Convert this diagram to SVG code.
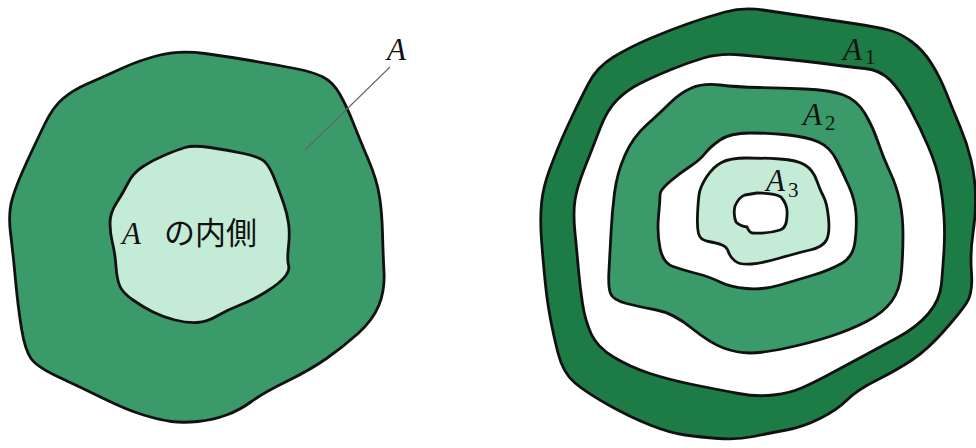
<svg xmlns="http://www.w3.org/2000/svg" width="976" height="448" viewBox="0 0 976 448">
<style>
.ol{stroke:#111;stroke-width:2.8;stroke-linejoin:round}
.mid{fill:#3a9a69}
.light{fill:#c4ebd5}
.dark{fill:#1d7c45}
.wh{fill:#fff}
.lab{font-family:"Liberation Serif",serif;font-style:italic;font-size:31px;fill:#111}
.sub{font-family:"Liberation Serif",serif;font-size:21px;fill:#111}
.jp{font-family:"Noto Sans CJK JP",sans-serif;font-size:31px;fill:#111}
</style>
<rect width="976" height="448" fill="#fff"/>
<g id="region-A">
<path class="ol mid" d="M160,55 Q180,50 205,53.5 Q230,57 253.5,61 Q277,65 295,68.5 Q313,72 323,77 Q333,82 340,94.5 Q347,107 353.5,123.5 Q360,140 368.5,160 Q377,180 379.5,196.5 Q382,213 382.5,233 Q383,253 384,271.5 Q385,290 379,305 Q373,320 358,333.5 Q343,347 326.5,358.5 Q310,370 286.5,381.5 Q263,393 251.5,401.5 Q240,410 226.5,415 Q213,420 198,421.5 Q183,423 171.5,421.5 Q160,420 143.5,415 Q127,410 103.5,398.5 Q80,387 58.5,377 Q37,367 31,358.5 Q25,350 21.5,328.5 Q18,307 15.5,280 Q13,253 10.5,233 Q8,213 12.5,198 Q17,183 27,161.5 Q37,140 45,123.5 Q53,107 63,98.5 Q73,90 88,83.5 Q103,77 121.5,68.5 Q140,60 160,55 Z"/>
</g>
<g id="inside-A">
<path class="ol light" d="M185,147.5 Q193,145 210,147.5 Q227,150 243.5,153.5 Q260,157 265,162 Q270,167 275,180 Q280,193 283.5,203 Q287,213 288.5,223 Q290,233 288.5,246.5 Q287,260 288.5,265 Q290,270 285,276.5 Q280,283 266.5,291.5 Q253,300 240,305 Q227,310 217,316 Q207,322 197,322.5 Q187,323 175,320 Q163,317 153,312 Q143,307 133,300 Q123,293 120,286.5 Q117,280 116,266.5 Q115,253 112.5,243 Q110,233 110,223 Q110,213 116.5,203 Q123,193 128,183 Q133,173 143,166.5 Q153,160 165,155 Q177,150 185,147.5 Z"/>
<text class="lab" x="122" y="244">A</text>
<text class="jp" x="164" y="244">の内側</text>
</g>
<g id="label-A">
<text class="lab" x="387" y="60">A</text>
</g>
<g id="connectors">
<line x1="390" y1="67" x2="305" y2="150" stroke="#666" stroke-width="1.1"/>
</g>
<g id="A1">
<path class="ol dark" d="M725,12 Q743,7 763,10 Q783,13 806.5,16.5 Q830,20 853.5,23.5 Q877,27 888.5,30 Q900,33 911.5,41.5 Q923,50 931.5,63.5 Q940,77 946.5,93.5 Q953,110 960,126.5 Q967,143 971,160 Q975,177 975.5,195 Q976,213 973,233 Q970,253 971.5,273 Q973,293 966.5,303 Q960,313 943.5,331.5 Q927,350 912,360 Q897,370 877,380 Q857,390 847,400 Q837,410 820,418.5 Q803,427 786.5,430 Q770,433 753.5,436.5 Q737,440 718.5,438.5 Q700,437 685,435 Q670,433 650,425 Q630,417 608.5,405 Q587,393 575,383 Q563,373 558,353 Q553,333 550,316.5 Q547,300 545,280 Q543,260 541.5,240 Q540,220 541.5,203.5 Q543,187 550,168.5 Q557,150 562,138.5 Q567,127 573.5,113.5 Q580,100 588.5,83.5 Q597,67 613.5,57 Q630,47 650,38.5 Q670,30 688.5,23.5 Q707,17 725,12 Z"/>
<path class="ol wh" d="M703.5,58 Q720,53 741.5,55 Q763,57 788,59.5 Q813,62 831.5,64.5 Q850,67 865,68.5 Q880,70 890,80 Q900,90 910,108.5 Q920,127 928.5,147 Q937,167 940,183.5 Q943,200 944,216.5 Q945,233 944,250 Q943,267 941.5,283.5 Q940,300 928.5,313.5 Q917,327 898.5,337 Q880,347 861.5,357 Q843,367 828,375 Q813,383 801.5,388 Q790,393 773.5,395 Q757,397 738.5,393.5 Q720,390 695,385 Q670,380 650,373.5 Q630,367 613.5,357 Q597,347 591,333.5 Q585,320 582.5,303.5 Q580,287 578.5,270 Q577,253 575,233 Q573,213 575,200 Q577,187 585,167 Q593,147 600,128.5 Q607,110 617,100 Q627,90 640,83.5 Q653,77 670,70 Q687,63 703.5,58 Z"/>
<text class="lab" x="843" y="60">A</text><text class="sub" x="865" y="64">1</text>
</g>
<g id="A2">
<path class="ol mid" d="M691.5,88 Q703,83 720,85 Q737,87 758.5,87.5 Q780,88 805,89 Q830,90 843.5,95 Q857,100 865,113.5 Q873,127 878,142 Q883,157 890,172 Q897,187 900,202 Q903,217 903,235 Q903,253 901.5,271.5 Q900,290 891.5,301.5 Q883,313 866.5,321.5 Q850,330 830,336.5 Q810,343 786.5,348 Q763,353 750,353 Q737,353 723.5,348 Q710,343 691.5,328 Q673,313 656.5,310 Q640,307 626.5,303.5 Q613,300 610.5,293.5 Q608,287 609,270 Q610,253 611,233 Q612,213 614.5,193 Q617,173 625,155 Q633,137 646.5,125 Q660,113 670,103 Q680,93 691.5,88 Z"/>
<path class="ol wh" d="M720,140 Q730,133 750,133 Q770,133 788.5,135 Q807,137 818.5,142 Q830,147 836.5,160 Q843,173 849,186.5 Q855,200 856,213.5 Q857,227 855,242 Q853,257 841.5,263.5 Q830,270 813.5,275 Q797,280 780,285 Q763,290 746.5,288.5 Q730,287 720,282 Q710,277 696.5,273.5 Q683,270 673,266.5 Q663,263 660,248 Q657,233 658.5,216.5 Q660,200 660,195 Q660,190 670,181.5 Q680,173 690,166.5 Q700,160 705,153.5 Q710,147 720,140 Z"/>
<text class="lab" x="803" y="125">A</text><text class="sub" x="825" y="130">2</text>
</g>
<g id="A3">
<path class="ol light" d="M721.5,162.5 Q730,158 746.5,158 Q763,158 780,159 Q797,160 805,165 Q813,170 816.5,180 Q820,190 823.5,196.5 Q827,203 828.5,218 Q830,233 826.5,240 Q823,247 810,250 Q797,253 780,258 Q763,263 751.5,264 Q740,265 735,261 Q730,257 728.5,252 Q727,247 722,245 Q717,243 708.5,241.5 Q700,240 698.5,233.5 Q697,227 697.5,215 Q698,203 699,195 Q700,187 706.5,177 Q713,167 721.5,162.5 Z"/>
<path class="ol wh" d="M757,193 Q775,193 781,197 Q788,205 787,215 Q787,228 780,230 Q768,234 752,233 Q749,232 747,227 Q740,226 736,222 Q733,214 735,206 Q739,197 745,195 Z"/>
<text class="lab" x="766" y="191">A</text><text class="sub" x="788" y="197">3</text>
</g>
</svg>
